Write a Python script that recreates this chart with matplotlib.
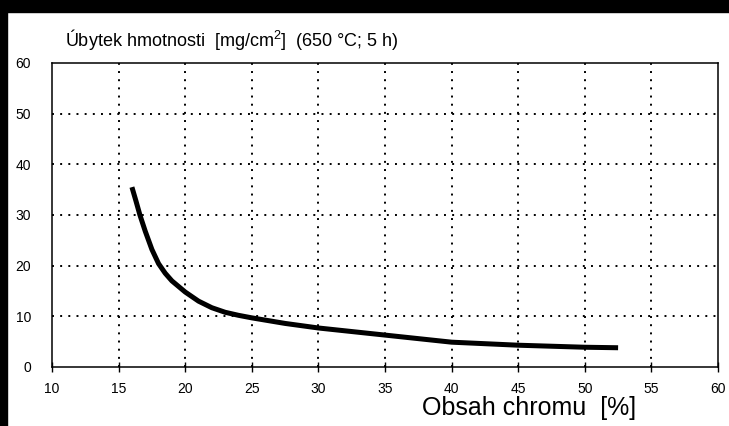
import matplotlib
matplotlib.use('Agg')
import matplotlib.pyplot as plt
from matplotlib.patches import Rectangle
import numpy as np

plt.rcParams['font.family'] = ['Liberation Sans', 'DejaVu Sans']
plt.rcParams['mathtext.fontset'] = 'custom'
plt.rcParams['mathtext.rm'] = 'Liberation Sans'

# chromium content [%] vs. mass loss [mg/cm2]
chrom = [16.0, 16.3, 16.6, 17.0, 17.5, 18.0, 18.5, 19.0, 20.0, 21.0, 22.0, 23.0, 24.0, 25.0,
         27.5, 30.0, 32.5, 35.0, 37.5, 40.0, 42.5, 45.0, 47.5, 50.0, 52.5]
loss = [35.5, 32.8, 30.0, 26.8, 23.2, 20.4, 18.5, 17.0, 14.8, 13.0, 11.7, 10.8, 10.2, 9.7,
        8.6, 7.7, 7.0, 6.3, 5.6, 4.9, 4.6, 4.3, 4.1, 3.9, 3.8]

xticks = np.arange(10, 61, 5)
yticks = np.arange(0, 61, 10)

fig = plt.figure(figsize=(7.29, 4.26), dpi=100)
ax = fig.add_axes([52 / 729, 1 - 367 / 426, 666 / 729, 304 / 426])

# scan border
fig.patches.append(Rectangle((0, 1 - 12 / 426), 1, 12 / 426, transform=fig.transFigure,
                             color='black', zorder=-1))
fig.patches.append(Rectangle((0, 0), 7 / 729, 1, transform=fig.transFigure,
                             color='black', zorder=-1))

ax.plot(chrom, loss, color='black', linewidth=3.6, solid_capstyle='butt', zorder=3)

ax.set_xlim(10, 60)
ax.set_ylim(0, 60)
ax.set_xticks(xticks)
ax.set_yticks(yticks)
ax.set_xticklabels([str(v) for v in xticks], fontsize=10)
ax.set_yticklabels([str(v) for v in yticks], fontsize=10)
ax.tick_params(axis='x', direction='inout', length=7, width=1, pad=7)
ax.tick_params(axis='y', length=0, pad=15)

for v in xticks[1:-1]:
    ax.axvline(v, color='black', linewidth=1.4, linestyle=(0, (1, 3.2)), zorder=1)
for v in yticks[1:-1]:
    ax.axhline(v, color='black', linewidth=1.4, linestyle=(0, (1, 3.2)), zorder=1)

for s in ax.spines.values():
    s.set_linewidth(1.1)

fig.text(65 / 729, 1 - 46 / 426, r'Úbytek hmotnosti  [mg/cm$^2$]  (650 °C; 5 h)',
         fontsize=13, va='baseline', ha='left')
fig.text(636 / 729, 1 - 408 / 426, 'Obsah chromu  [%]', fontsize=18,
         va='center', ha='right')

fig.savefig('out.png', dpi=100)
